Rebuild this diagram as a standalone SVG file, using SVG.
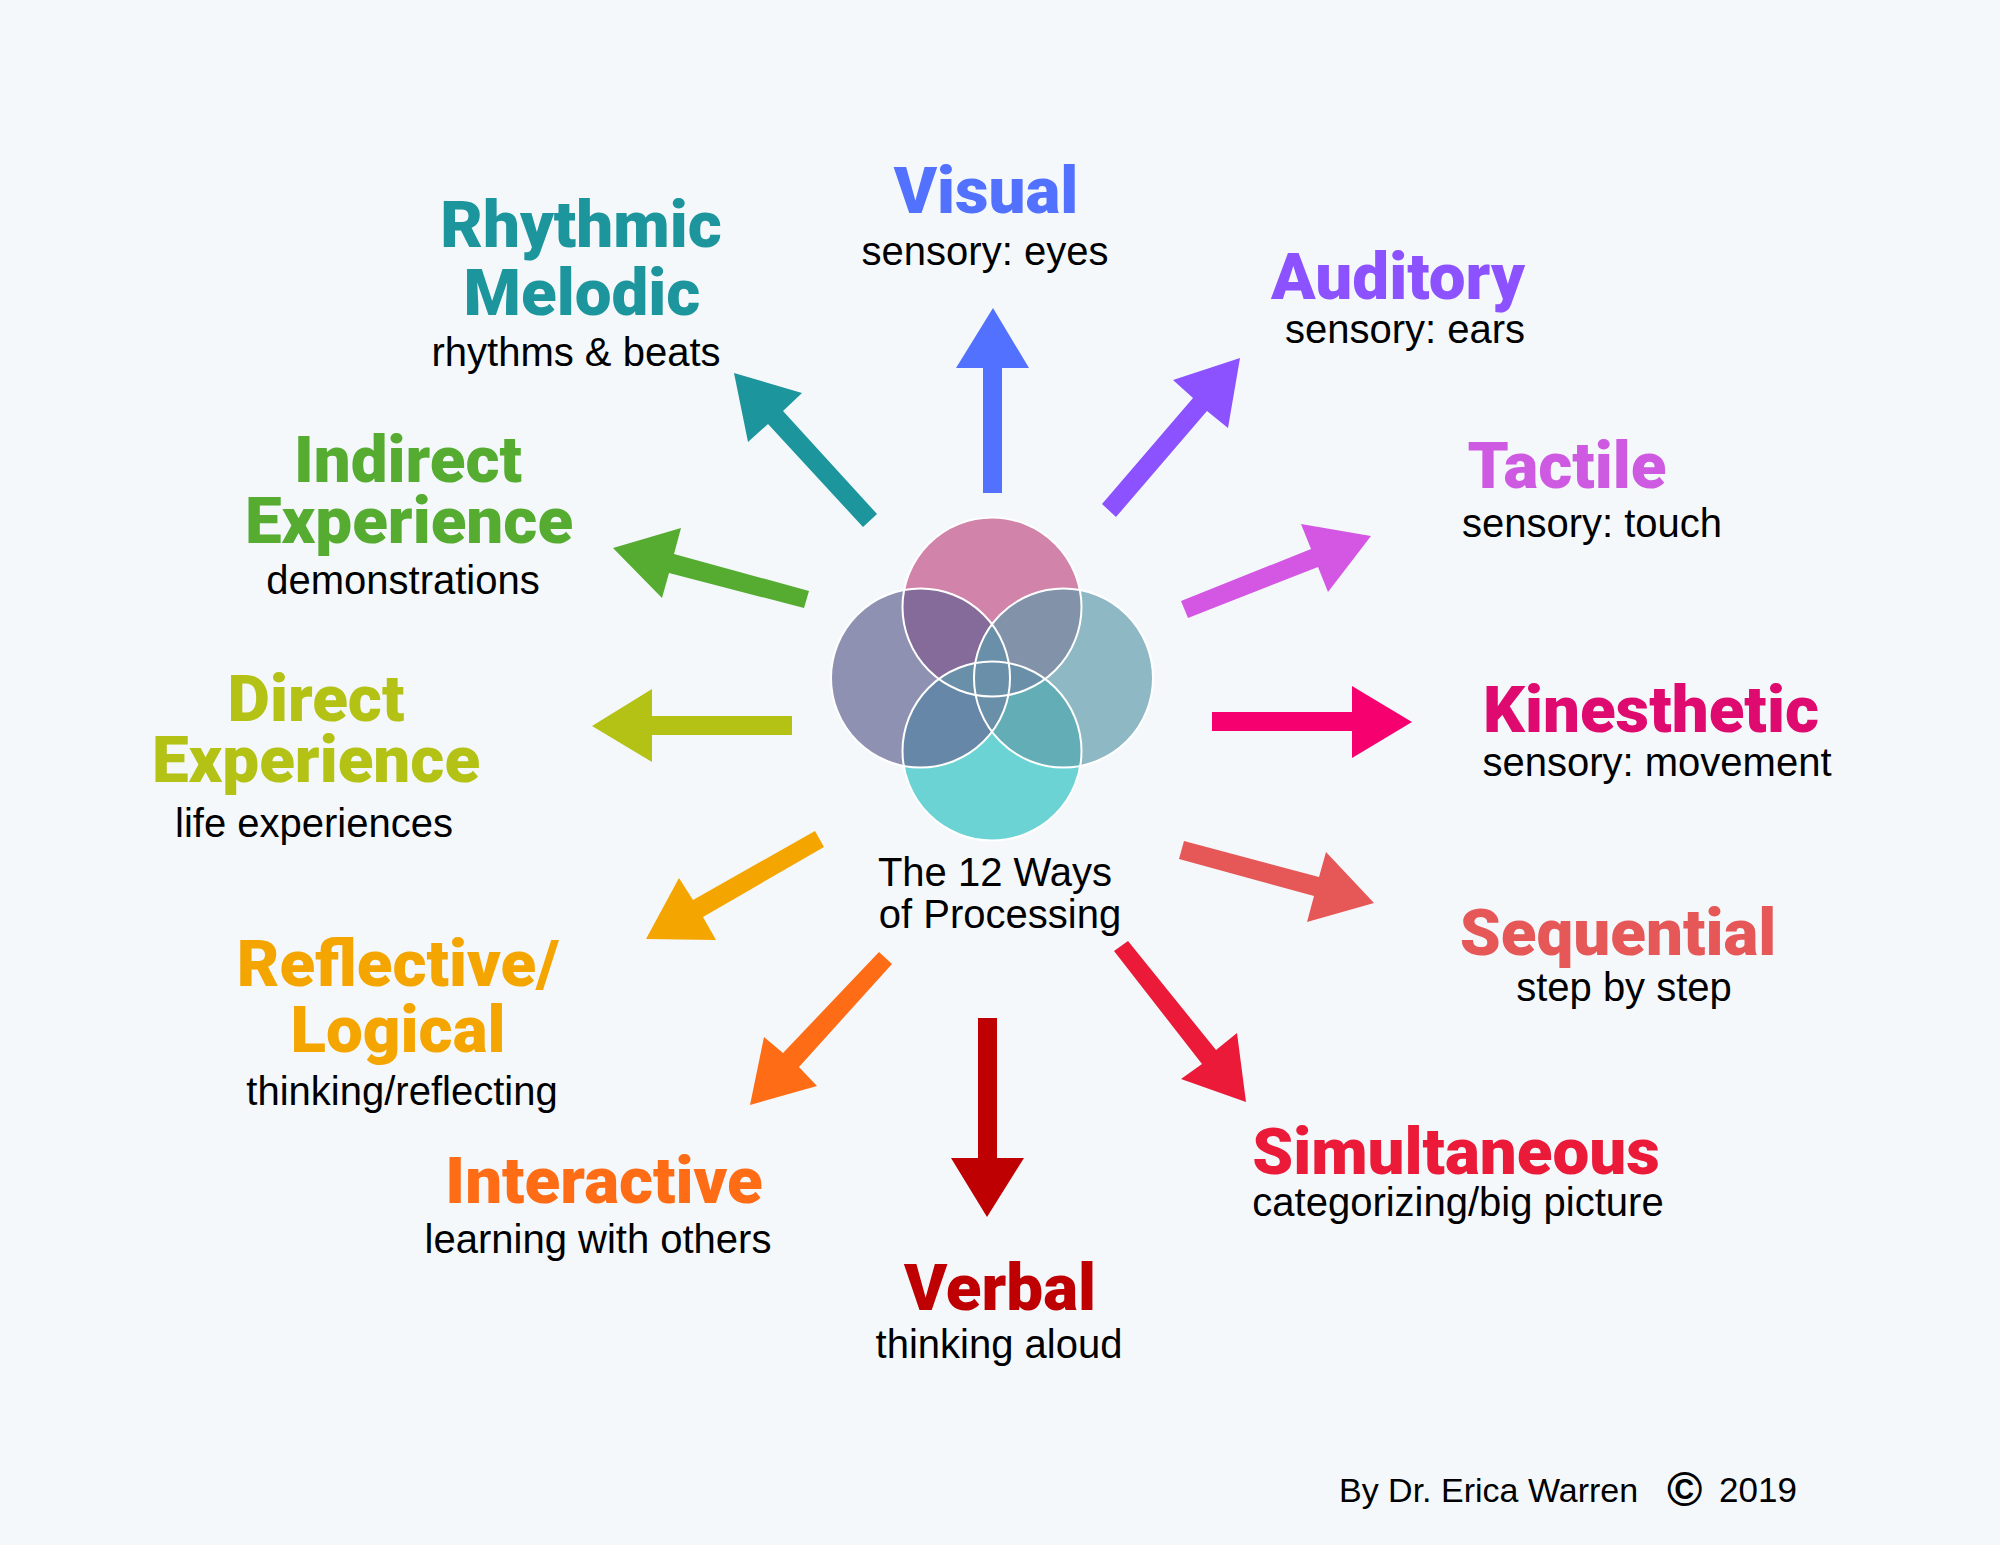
<svg xmlns="http://www.w3.org/2000/svg" width="2000" height="1545" viewBox="0 0 2000 1545">
<defs>
<style>
.t{font-family:Roboto,"Liberation Sans",sans-serif;font-weight:900;font-size:65.5px;text-anchor:middle}
.s{font-family:"Liberation Sans",Arial,sans-serif;font-size:40px;text-anchor:middle;fill:#000}
.ol{fill:none;stroke:#fff;stroke-width:2}
</style>
<clipPath id="cT"><circle cx="992" cy="607" r="89.5"/></clipPath>
<clipPath id="cL"><circle cx="920.5" cy="678" r="89.5"/></clipPath>
<clipPath id="cR"><circle cx="1063.5" cy="678" r="89.5"/></clipPath>
<clipPath id="cB"><circle cx="992" cy="751" r="89.5"/></clipPath>
</defs>
<rect width="2000" height="1545" fill="#f4f8fb"/>

<g id="center">
<circle cx="992" cy="607" r="89.5" fill="#d183a9"/>
<circle cx="920.5" cy="678" r="89.5" fill="#8f91b3"/>
<circle cx="1063.5" cy="678" r="89.5" fill="#8eb8c3"/>
<circle cx="992" cy="751" r="89.5" fill="#6bd3d3"/>
<circle cx="920.5" cy="678" r="89.5" fill="#846b99" clip-path="url(#cT)"/>
<circle cx="1063.5" cy="678" r="89.5" fill="#8293a9" clip-path="url(#cT)"/>
<circle cx="920.5" cy="678" r="89.5" fill="#6687a8" clip-path="url(#cB)"/>
<circle cx="1063.5" cy="678" r="89.5" fill="#63adb6" clip-path="url(#cB)"/>
<circle cx="1063.5" cy="678" r="89.5" fill="#6a8fa8" clip-path="url(#cL)"/>
<circle cx="992" cy="751" r="89.5" fill="#6a8fa8" clip-path="url(#cT)"/>
<circle class="ol" cx="992" cy="607" r="89.5"/>
<circle class="ol" cx="920.5" cy="678" r="89.5"/>
<circle class="ol" cx="1063.5" cy="678" r="89.5"/>
<circle class="ol" cx="992" cy="751" r="89.5"/>
<text class="s" x="995" y="886">The 12 Ways</text>
<text class="s" x="1000" y="928">of Processing</text>
</g>

<g id="connectors">
<polygon fill="#5271ff" points="993,308 1029,368 1002,368 1002,493 983,493 983,368 956,368"/>
<polygon fill="#8c52ff" points="1240,358 1228,428 1207,411 1116,517 1102,504 1193,398 1173,380"/>
<polygon fill="#d357e3" points="1371,536 1328,592 1318,567 1188,618 1181,601 1311,549 1301,524"/>
<polygon fill="#f5006e" points="1412,722 1352,758 1352,731 1212,731 1212,712 1352,712 1352,686"/>
<polygon fill="#e65757" points="1374,903 1307,922 1314,896 1179,859 1184,841 1319,877 1326,852"/>
<polygon fill="#ea1a38" points="1246,1102 1181,1079 1202,1064 1114,951 1128,941 1216,1050 1237,1033"/>
<polygon fill="#bf0002" points="987,1217 951,1158 978,1158 978,1018 997,1018 997,1158 1024,1158"/>
<polygon fill="#ff6c16" points="750,1105 764,1037 783,1053 879,952 892,964 799,1067 817,1086"/>
<polygon fill="#f5a500" points="646,939 679,878 693,900 815,831 824,847 703,917 716,940"/>
<polygon fill="#b3c215" points="592,726 652,689 652,716 792,716 792,735 652,735 652,762"/>
<polygon fill="#55ac31" points="613,548 681,528 674,554 809,591 804,608 669,573 662,598"/>
<polygon fill="#1c959c" points="734,373 802,393 783,411 877,514 863,527 768,424 748,442"/>
</g>

<g id="visual">
<text class="t" x="986" y="213" fill="#5271ff">Visual</text>
<text class="s" x="985" y="265">sensory: eyes</text>
</g>
<g id="auditory">
<text class="t" x="1398" y="299" fill="#8c52ff">Auditory</text>
<text class="s" x="1405" y="343">sensory: ears</text>
</g>
<g id="tactile">
<text class="t" x="1567" y="488" fill="#cf5ae2">Tactile</text>
<text class="s" x="1592" y="537">sensory: touch</text>
</g>
<g id="kinesthetic">
<text class="t" x="1651" y="732" fill="#df0a6f">Kinesthetic</text>
<text class="s" x="1657" y="776">sensory: movement</text>
</g>
<g id="sequential">
<text class="t" x="1618" y="955" fill="#e65757">Sequential</text>
<text class="s" x="1624" y="1001">step by step</text>
</g>
<g id="simultaneous">
<text class="t" x="1456" y="1174" fill="#ea1a38">Simultaneous</text>
<text class="s" x="1458" y="1216">categorizing/big picture</text>
</g>
<g id="verbal">
<text class="t" x="1000" y="1310" fill="#bf0002">Verbal</text>
<text class="s" x="999" y="1358">thinking aloud</text>
</g>
<g id="interactive">
<text class="t" x="604" y="1203" fill="#ff6c16">Interactive</text>
<text class="s" x="598" y="1253">learning with others</text>
</g>
<g id="reflective">
<text class="t" x="398" y="986" fill="#f5a500">Reflective/</text>
<text class="t" x="398" y="1052" fill="#f5a500">Logical</text>
<text class="s" x="402" y="1105">thinking/reflecting</text>
</g>
<g id="direct">
<text class="t" x="316" y="721" fill="#b3c215">Direct</text>
<text class="t" x="316" y="782" fill="#b3c215">Experience</text>
<text class="s" x="314" y="837">life experiences</text>
</g>
<g id="indirect">
<text class="t" x="408" y="482" fill="#55ac31">Indirect</text>
<text class="t" x="409" y="543" fill="#55ac31">Experience</text>
<text class="s" x="403" y="594">demonstrations</text>
</g>
<g id="rhythmic">
<text class="t" x="581" y="247" fill="#1c959c">Rhythmic</text>
<text class="t" x="582" y="315" fill="#1c959c">Melodic</text>
<text class="s" x="576" y="366">rhythms &amp; beats</text>
</g>

<g id="credit">
<text font-family="Liberation Sans,Arial,sans-serif" font-size="34" x="1339" y="1502">By Dr. Erica Warren</text>
<text font-family="Liberation Sans,Arial,sans-serif" font-weight="bold" font-size="48" x="1667" y="1506">©</text>
<text font-family="Liberation Sans,Arial,sans-serif" font-size="35" x="1719" y="1502">2019</text>
</g>
</svg>
